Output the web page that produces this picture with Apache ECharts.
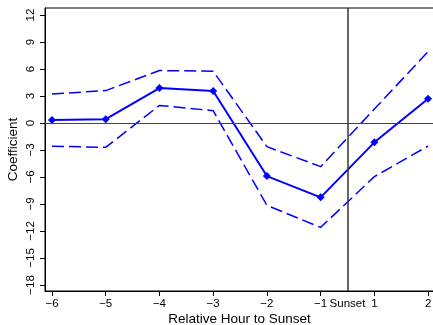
<!DOCTYPE html>
<html><head><meta charset="utf-8">
<script src="https://cdn.jsdelivr.net/npm/echarts@6/dist/echarts.min.js"></script>
<style>html,body{margin:0;padding:0;background:#fff}#c{width:433px;height:325px}</style>
</head><body><div id="c"></div>
<script>
// x positions on the axis (hour slots); position 0 = hour 1, position 1 = hour 2
const xPos = [-6, -5, -4, -3, -2, -1, 0, 1];
const coef = [0.32, 0.42, 3.88, 3.55, -5.9, -8.26, -2.15, 2.7];
const upper = [3.22, 3.6, 5.83, 5.75, -2.63, -4.85, 1.55, 7.93];
const lower = [-2.58, -2.7, 1.95, 1.37, -9.15, -11.6, -5.96, -2.56];
const yTicks = [-18, -15, -12, -9, -6, -3, 0, 3, 6, 9, 12];
const xTicks = [-6, -5, -4, -3, -2, -1, 0, 1];
const xLabelPos = [-6, -5, -4, -3, -2, -1, -0.5, 0, 1];
const xLabelText = ['\u22126', '\u22125', '\u22124', '\u22123', '\u22122', '\u22121', 'Sunset', '1', '2'];
const sunsetPos = -0.5;

const pair = (ys) => xPos.map((x, i) => [x, ys[i]]);
const fmtY = v => (v < 0 ? '\u2212' + Math.abs(v) : String(v));
const FONT = "'Liberation Sans', Arial, Helvetica, sans-serif";
const blue = '#0000ff';

const chart = echarts.init(document.getElementById('c'), null, {renderer: 'canvas'});
chart.setOption({
  animation: false,
  grid: {left: 45, right: -1, top: 8, bottom: 34, outerBoundsMode: 'none', containLabel: false, show: true, borderColor: '#000', borderWidth: 1},
  xAxis: {
    type: 'value', min: -6.13, max: 1.11,
    name: 'Relative Hour to Sunset', nameLocation: 'middle', nameGap: 21, nameMoveOverlap: false,
    nameTextStyle: {fontFamily: FONT, fontSize: 13.5, color: '#000'},
    axisLine: {show: true, onZero: false, lineStyle: {color: '#000', width: 1}},
    axisTick: {show: true, length: 5, customValues: xTicks, lineStyle: {color: '#000'}},
    axisLabel: {customValues: xLabelPos, margin: 7, fontFamily: FONT, fontSize: 11.5, color: '#000',
      formatter: v => { const i = xLabelPos.findIndex(p => Math.abs(p - v) < 1e-6); return i >= 0 ? xLabelText[i] : ''; }},
    splitLine: {show: false}
  },
  yAxis: {
    type: 'value', min: -18.67, max: 12.78,
    name: 'Coefficient', nameLocation: 'middle', nameGap: 25, nameMoveOverlap: false,
    nameTextStyle: {fontFamily: FONT, fontSize: 13.5, color: '#000'},
    axisLine: {show: true, onZero: false, lineStyle: {color: '#000', width: 1}},
    axisTick: {show: true, length: 5, customValues: yTicks, lineStyle: {color: '#000'}},
    axisLabel: {customValues: yTicks, rotate: 90, margin: 8, fontFamily: FONT, fontSize: 11.5, color: '#000', formatter: fmtY},
    splitLine: {show: false}
  },
  series: [
    {type: 'line', data: pair(upper), symbol: 'none', lineStyle: {color: blue, width: 1.5, type: [12, 5]}, z: 3},
    {type: 'line', data: pair(lower), symbol: 'none', lineStyle: {color: blue, width: 1.5, type: [12, 5]}, z: 3},
    {type: 'line', data: pair(coef), symbol: 'diamond', symbolSize: 8, itemStyle: {color: blue},
     lineStyle: {color: blue, width: 2}, z: 4,
     markLine: {silent: true, symbol: 'none', label: {show: false}, animation: false,
       data: [
         {yAxis: 0, lineStyle: {color: '#444', width: 1, type: 'solid'}},
         {xAxis: sunsetPos, lineStyle: {color: '#333', width: 1.5, type: 'solid'}}
       ]}}
  ]
});
</script></body></html>
